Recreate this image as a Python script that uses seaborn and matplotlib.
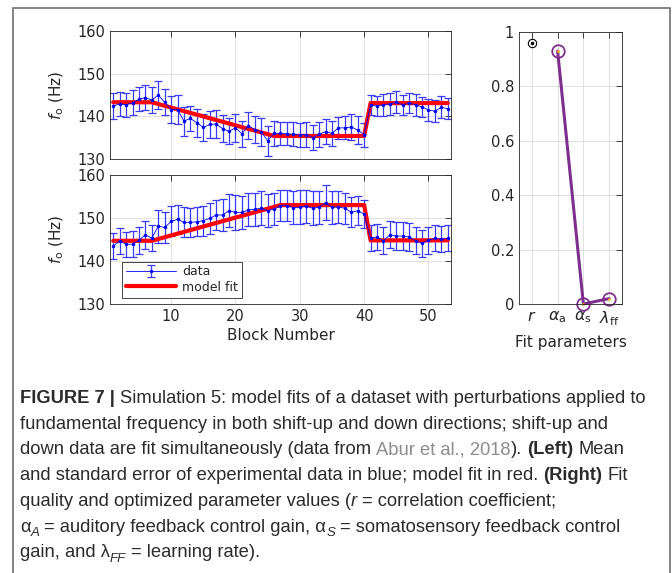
import numpy as np
import pandas as pd
import seaborn as sns
import matplotlib.pyplot as plt
from matplotlib.patches import Rectangle

# block numbers for both conditions
blocks = list(range(1, 54))

# shift-down data (top panel), mean and standard error
down_mean = [142.4, 142.9, 142.7, 143.2, 144.0, 144.4, 143.8, 145.0, 143.3, 141.6,
             141.6, 138.9, 139.5, 138.5, 137.4, 138.1, 138.2, 137.1, 136.5, 137.3,
             135.9, 137.8, 136.9, 136.4, 134.3, 136.0, 136.0, 135.9, 135.8, 135.7,
             135.7, 135.0, 135.8, 136.4, 136.0, 137.3, 137.3, 137.5, 136.8, 135.7,
             142.7, 142.4, 142.7, 142.9, 143.3, 142.7, 143.1, 142.7, 142.2, 141.5,
             141.2, 142.1, 141.8]
down_se = [3.0, 2.9, 2.8, 2.9, 2.8, 2.9, 3.0, 3.3, 3.0, 3.2,
           3.4, 3.4, 3.0, 3.3, 3.1, 3.2, 3.2, 3.1, 3.0, 3.3,
           3.1, 3.2, 3.1, 3.3, 3.5, 2.9, 2.7, 2.7, 2.8, 2.8,
           2.9, 3.0, 2.9, 2.9, 2.9, 2.6, 2.7, 3.0, 3.2, 2.8,
           2.4, 2.4, 2.6, 2.5, 2.6, 2.4, 2.4, 2.6, 2.4, 2.5,
           2.6, 2.6, 2.5]
down_fit_x = [1, 7, 26, 40, 41, 53]
down_fit_y = [143.3, 143.3, 135.4, 135.4, 143.1, 143.1]

# shift-up data (bottom panel)
up_mean = [143.5, 144.7, 143.9, 143.9, 144.8, 146.1, 145.3, 148.1, 147.8, 149.2,
           149.7, 149.0, 149.0, 149.1, 149.4, 149.9, 150.7, 150.7, 151.7, 151.3,
           151.3, 151.9, 152.0, 152.3, 151.7, 152.1, 152.9, 152.9, 152.4, 152.5,
           152.7, 152.3, 152.5, 153.6, 152.5, 152.5, 152.3, 151.3, 151.7, 150.9,
           145.3, 145.6, 144.7, 146.1, 145.8, 145.8, 145.6, 144.7, 144.1, 144.8,
           145.3, 145.1, 145.3]
up_se = [3.0, 3.0, 2.9, 3.0, 3.2, 3.2, 3.0, 3.8, 3.6, 3.5,
         3.4, 3.5, 3.4, 3.4, 3.5, 3.6, 3.6, 3.7, 3.9, 4.1,
         3.9, 3.8, 3.8, 3.9, 3.9, 3.8, 3.6, 3.7, 3.8, 3.9,
         3.8, 3.9, 3.8, 4.0, 3.8, 3.7, 3.6, 3.5, 3.4, 3.3,
         3.0, 3.0, 3.1, 3.1, 3.2, 3.2, 3.3, 3.1, 3.2, 3.2,
         3.0, 3.0, 3.0]
up_fit_x = [1, 7, 27, 40, 41, 53]
up_fit_y = [144.7, 144.7, 153.0, 153.0, 144.8, 144.8]

# fit parameters (right panel)
param_labels = [r'$r$', r'$\alpha_{\rm a}$', r'$\alpha_{\rm s}$', r'$\lambda_{\rm ff}$']
r_value = 0.96
param_values = [0.93, 0.0, 0.02]

sns.set_theme(style='white')
plt.rcParams['font.family'] = ['DejaVu Sans']
plt.rcParams['axes.edgecolor'] = '#262626'
plt.rcParams['axes.linewidth'] = 0.6

ink = '#262626'
fig = plt.figure(figsize=(6.72, 5.73), dpi=100)
fig.patch.set_facecolor('white')

ax1 = fig.add_axes([110/672, 1-159/573, 341/672, 128/573])
ax2 = fig.add_axes([110/672, 1-304/573, 341/672, 129/573])
ax3 = fig.add_axes([519/672, 1-304/573, 103/672, 272/573])


def style_axes(ax):
    ax.grid(True, color='#dcdcdc', lw=0.6)
    ax.set_axisbelow(True)
    ax.tick_params(direction='in', length=4, width=0.6, top=True, right=True,
                   labelsize=10.5, colors=ink, labelcolor=ink)
    for sp in ax.spines.values():
        sp.set_visible(True)
        sp.set_color(ink)


handles = {}
for ax, mean, se, fx, fy in [(ax1, down_mean, down_se, down_fit_x, down_fit_y),
                             (ax2, up_mean, up_se, up_fit_x, up_fit_y)]:
    eb = ax.errorbar(blocks, mean, yerr=se, color='#0000ff', lw=0.6, marker='.', ms=3,
                     capsize=3, elinewidth=0.9, ecolor='#3a3aff', capthick=0.9, label='data')
    fit_df = pd.DataFrame({'block': fx, 'f0': fy})
    sns.lineplot(data=fit_df, x='block', y='f0', ax=ax, color='#ff0000', lw=3,
                 label='model fit', legend=False)
    handles[ax] = [eb, ax.get_lines()[-1]]
    ax.set_xlim(0.5, 53.5)
    ax.set_ylim(130, 160)
    ax.set_yticks([130, 140, 150, 160])
    ax.set_xticks([10, 20, 30, 40, 50])
    ax.set_ylabel(r'$f_{\rm o}$ (Hz)', fontsize=11, color=ink, labelpad=8)
    style_axes(ax)

ax1.set_xlabel('')
ax1.set_xticklabels([])
ax2.set_xlabel('Block Number', fontsize=11, color=ink, labelpad=3)
leg = ax2.legend(handles[ax2], ['data', 'model fit'], loc='lower left',
                 bbox_to_anchor=(0.035, 0.05), borderaxespad=0,
                 fontsize=9, fancybox=False, edgecolor=ink, framealpha=1,
                 handlelength=4, borderpad=0.3, labelspacing=0.2, handletextpad=0.5)
leg.get_frame().set_linewidth(0.6)
for t in leg.get_texts():
    t.set_color(ink)

# right panel
ax3.plot([1], [r_value], marker='o', mfc='none', mec='black', ms=6, mew=0.8, ls='none')
ax3.plot([1], [r_value], marker='.', color='black', ms=3, ls='none')
par_df = pd.DataFrame({'pos': [2, 3, 4], 'value': param_values})
sns.lineplot(data=par_df, x='pos', y='value', ax=ax3, color='#7e2f8e', lw=2.2,
             marker='o', ms=9, mfc='none', mec='#7e2f8e', mew=1.3, clip_on=False)
ax3.plot([2, 3, 4], param_values, marker='.', color='#edb120', ms=2, ls='none', clip_on=False)
ax3.set_xlim(0.5, 4.5)
ax3.set_ylim(0, 1)
ax3.set_xticks([1, 2, 3, 4])
ax3.set_yticks([0, 0.2, 0.4, 0.6, 0.8, 1])
ax3.set_yticklabels(['0', '0.2', '0.4', '0.6', '0.8', '1'])
ax3.set_ylabel('')
ax3.set_xlabel('Fit parameters', fontsize=11, color=ink, labelpad=5)
style_axes(ax3)
ax3.set_xticklabels(param_labels, fontsize=11.5)

# outer frame of the figure panel
fig.patches.append(Rectangle((13/672, -0.02), 657/672, 1 - 8/573 + 0.02,
                             transform=fig.transFigure, fill=False,
                             edgecolor='#707070', lw=1.2))

# caption
cap = fig.add_axes([0, 0, 1, 1])
cap.axis('off')
cap.set_zorder(-1)
cap_font = ['Liberation Sans', 'DejaVu Sans']
cap_ink = '#2b2b2b'
cap_lines = [
    [('FIGURE 7 |', 'bold'), (' Simulation 5: model fits of a dataset with perturbations applied to', 'n')],
    [('fundamental frequency in both shift-up and down directions; shift-up and', 'n')],
    [('down data are fit simultaneously (data from', 'n'), (' Abur et al., 2018', 'gray'), (').', 'n'),
     (' (Left)', 'bold'), (' Mean', 'n')],
    [('and standard error of experimental data in blue; model fit in red.', 'n'), (' (Right)', 'bold'), (' Fit', 'n')],
    [('quality and optimized parameter values (', 'n'), ('r', 'it'), (' = correlation coefficient;', 'n')],
    [('\u03b1', 'n'), ('A', 'sub'), (' = auditory feedback control gain, \u03b1', 'n'), ('S', 'sub'),
     (' = somatosensory feedback control', 'n')],
    [('gain, and \u03bb', 'n'), ('FF', 'sub'), (' = learning rate).', 'n')],
]
y0 = 1 - 407/573
dy_line = 25.7/573
for i, segs in enumerate(cap_lines):
    y = y0 - i*dy_line
    first = None
    prev = None
    for txt, kind in segs:
        kw = dict(fontsize=13.2, color=cap_ink, family=cap_font)
        off_y = 0
        if kind == 'bold':
            kw['weight'] = 'bold'
        elif kind == 'gray':
            kw['color'] = '#8c8c8c'
        elif kind == 'it':
            kw['style'] = 'italic'
        elif kind == 'sub':
            kw.update(style='italic', fontsize=9.5)
            off_y = -2.8
        gap = 0
        if txt.startswith(' '):
            txt = txt[1:]
            gap = 3.6
        if prev is None:
            t = cap.text(20/672, y, txt, transform=fig.transFigure, va='bottom', ha='left', **kw)
            first = t
        else:
            t = cap.annotate(txt, xy=(1, 0), xycoords=(prev, first), xytext=(gap, off_y),
                             textcoords='offset points', va='bottom', ha='left', **kw)
        prev = t

fig.savefig('out.png', dpi=100, facecolor='white')
